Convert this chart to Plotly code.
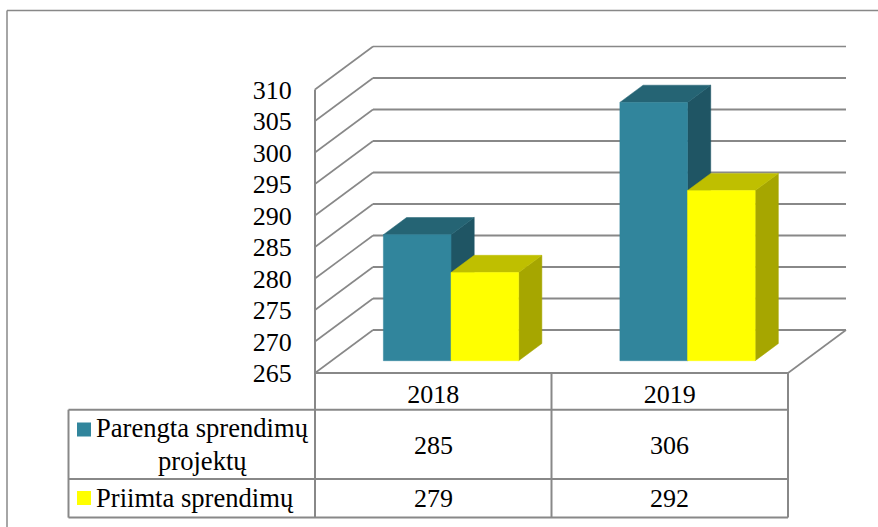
import plotly.graph_objects as go

categories = ["2018", "2019"]
series_names = ["Parengta sprendimų", "Priimta sprendimų"]
parengta = [285, 306]
priimta = [279, 292]
y_ticks = [265, 270, 275, 280, 285, 290, 295, 300, 305, 310]

W, H = 878, 527
X0_PX, CAT_PX = 315.0, 236.5      # x pixel of category axis start, px per category
Y0_PX, UNIT_PX = 373.0, 6.3       # y pixel of value 265, px per value unit
DEPTH_DX, DEPTH_DY = 58.0 / CAT_PX, 43.0 / UNIT_PX   # full depth of the floor, axis units
BAR_START, BAR_DEPTH = 0.286, 0.40                   # fractions of the depth
BAR_W = 0.286
GROUP_SHIFT = 0.005
PAD_PX = 4.0
GRID = "#888888"
FONT = "Liberation Serif"
FS = 26

styles = [
    dict(front="#31859C", top="#256474", side="#1F5564"),
    dict(front="#FFFF00", top="#BFBF00", side="#A6A600"),
]

fig = go.Figure()


def line(xs, ys, width=1.6, color=GRID):
    fig.add_trace(go.Scatter(x=xs, y=ys, mode="lines", line=dict(color=color, width=width),
                             hoverinfo="skip", showlegend=False))


def poly(xs, ys, color):
    fig.add_trace(go.Scatter(x=xs + xs[:1], y=ys + ys[:1], mode="lines", fill="toself",
                             fillcolor=color, line=dict(color=color, width=0.5),
                             hoverinfo="skip", showlegend=False))


# back wall gridlines and left wall diagonals
n = len(categories)
for t in y_ticks:
    line([DEPTH_DX, n + DEPTH_DX], [t + DEPTH_DY, t + DEPTH_DY], width=2 if t != y_ticks[-1] else 1.6)
    line([0, DEPTH_DX], [t, t + DEPTH_DY])
line([0, 0], [y_ticks[0], y_ticks[-1]], width=2)
line([0, n], [y_ticks[0], y_ticks[0]], width=2)
line([n, n + DEPTH_DX], [y_ticks[0], y_ticks[0] + DEPTH_DY])


def bar3d(xl, xr, value, st):
    base = y_ticks[0]
    sx, sy = BAR_START * DEPTH_DX, BAR_START * DEPTH_DY
    dx, dy = BAR_DEPTH * DEPTH_DX, BAR_DEPTH * DEPTH_DY
    l, r = xl + sx, xr + sx
    b, t = base + sy, value + sy
    poly([r, r + dx, r + dx, r], [b, b + dy, t + dy, t], st["side"])
    poly([l, l + dx, r + dx, r], [t, t + dy, t + dy, t], st["top"])
    poly([l, r, r, l], [b, b, t, t], st["front"])


for i in range(n):
    c = i + 0.5 + GROUP_SHIFT
    bar3d(c - BAR_W, c, parengta[i], styles[0])
    bar3d(c, c + BAR_W, priimta[i], styles[1])


def px(x):
    return x / W


def py(y):
    return 1 - y / H


TBL_L, TBL_TOP, R1, R2, R3 = 68.5, 373.0, 409.7, 479.0, 517.6
COLS = [315.0, 551.5, 788.0]


def seg(x0, y0, x1, y1, width=2):
    return dict(type="line", xref="paper", yref="paper", x0=px(x0), y0=py(y0), x1=px(x1), y1=py(y1),
                line=dict(color=GRID, width=width), layer="above")


shapes = [
    seg(7, 10.5, W, 10.5, 1.5),
    seg(7, 10.5, 7, H, 1.5),
    seg(TBL_L, R1, COLS[2], R1),
    seg(TBL_L, R2, COLS[2], R2),
    seg(TBL_L, R3, COLS[2], R3),
    seg(TBL_L, R1, TBL_L, R3),
    seg(COLS[0], TBL_TOP, COLS[0], R3),
    seg(COLS[1], TBL_TOP, COLS[1], R3),
    seg(COLS[2], TBL_TOP, COLS[2], R3),
]
for st, (y0, y1) in zip(styles, [(422.5, 436.5), (491, 505)]):
    shapes.append(dict(type="rect", xref="paper", yref="paper", x0=px(77), x1=px(91), y0=py(y1), y1=py(y0),
                       fillcolor=st["front"], line=dict(width=0)))

annotations = []


def note(text, x, y, xref="paper", xanchor="center", size=FS):
    annotations.append(dict(text=text, x=x if xref != "paper" else px(x), y=py(y), xref=xref, yref="paper",
                            xanchor=xanchor, yanchor="middle", showarrow=False,
                            font=dict(family=FONT, size=size, color="#000000")))


for i in range(n):
    note(str(parengta[i]), i + 0.5, 445, xref="x")
    note(str(priimta[i]), i + 0.5, 498, xref="x")
note(series_names[0], 94, 428, xanchor="left", size=26.6)
note("projektų", 202, 461, size=26.6)
note(series_names[1], 94, 498, xanchor="left", size=26.6)

fig.update_layout(
    width=W, height=H, autosize=False,
    margin=dict(l=0, r=0, t=0, b=0),
    paper_bgcolor="#FFFFFF", plot_bgcolor="rgba(0,0,0,0)",
    showlegend=False, shapes=shapes, annotations=annotations,
    font=dict(family=FONT, size=FS, color="#000000"),
    xaxis=dict(
        automargin=False,
        domain=[(X0_PX - PAD_PX) / W, (X0_PX + (n + DEPTH_DX) * CAT_PX + PAD_PX) / W],
        range=[-PAD_PX / CAT_PX, n + DEPTH_DX + PAD_PX / CAT_PX],
        tickmode="array", tickvals=[i + 0.5 for i in range(n)], ticktext=categories,
        ticks="", ticklabelstandoff=-1, showgrid=False, zeroline=False, showline=False,
    ),
    yaxis=dict(
        automargin=False,
        domain=[1 - (Y0_PX + PAD_PX) / H, 1 - (Y0_PX - (y_ticks[-1] - y_ticks[0] + DEPTH_DY) * UNIT_PX - PAD_PX) / H],
        range=[y_ticks[0] - PAD_PX / UNIT_PX, y_ticks[-1] + DEPTH_DY + PAD_PX / UNIT_PX],
        tickmode="array", tickvals=y_ticks,
        ticks="outside", ticklen=13, tickcolor="rgba(0,0,0,0)", showgrid=False, zeroline=False, showline=False,
    ),
)

fig.write_html("out.html", post_script="document.body.style.margin='0';document.body.style.overflow='hidden';",
               config=dict(displayModeBar=False))
